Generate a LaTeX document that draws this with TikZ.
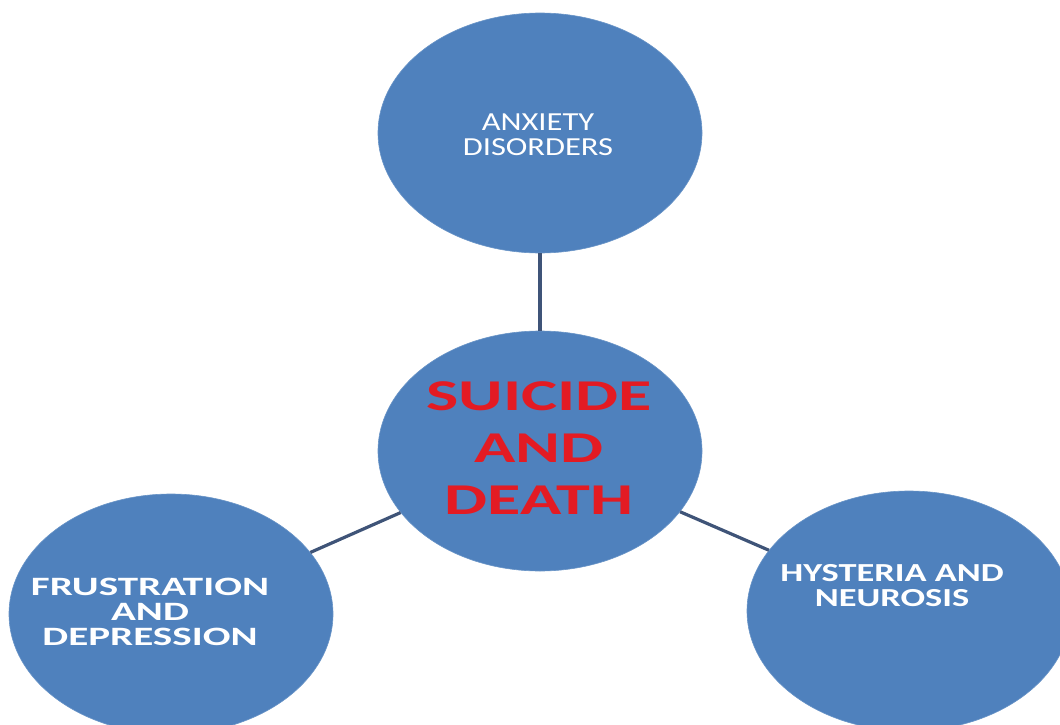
\documentclass[tikz,border=0pt]{standalone}
\usepackage{fontspec}
\setmainfont{Carlito}
\newfontfamily\wideFont[FakeStretch=1.25]{Carlito}
\newfontfamily\wideBold[FakeStretch=1.4]{Carlito}
\newfontfamily\wideBoldX[FakeStretch=1.55]{Carlito}
\usetikzlibrary{shapes.geometric, positioning}
\definecolor{bubbleBlue}{HTML}{4F81BD}
\definecolor{linkNavy}{HTML}{3F5478}
\definecolor{alarmRed}{HTML}{E31B23}
\tikzset{
  bubble/.style={ellipse, fill=bubbleBlue, draw=bubbleBlue!85!white, line width=0.6pt,
                 minimum width=324pt, minimum height=240pt, inner sep=0pt},
  link/.style={linkNavy, line width=3.2pt},
  txtW/.style={text=white, align=center, inner sep=0pt,
               font=\wideBold\bfseries\fontsize{26}{25}\selectfont},
  txtR/.style={text=alarmRed, align=center, inner sep=0pt,
               font=\wideBoldX\bfseries\fontsize{44}{52}\selectfont},
}
\begin{document}
\begin{tikzpicture}[x=1pt, y=-1pt]
  \useasboundingbox (0,0) rectangle (1060,725);
  % the four bubbles
  \node[bubble] (anx)  at (540,133) {};
  \node[bubble] (core) at (540,451) {};
  \node[bubble] (frus) at (171,614) {};
  \node[bubble] (hyst) at (909,611) {};
  % links to the centre
  \draw[link] (anx) -- (core);
  \draw[link] (frus) -- (core);
  \draw[link] (core) -- (hyst);
  % texts
  \node[txtW, font=\wideFont\fontsize{26}{25}\selectfont] (anxT) at (538,135)
        {ANXIETY\\DISORDERS};
  \node[txtR] (coreT) at (539,448) {SUICIDE\\AND\\DEATH};
  \node[txtW, font=\wideBoldX\bfseries\fontsize{26.5}{25}\selectfont] (frusT)
        at (150,612) {FRUSTRATION\\AND\\DEPRESSION};
  \node[txtW] (hystT) at (892,586) {HYSTERIA AND\\NEUROSIS};
\end{tikzpicture}
\end{document}
